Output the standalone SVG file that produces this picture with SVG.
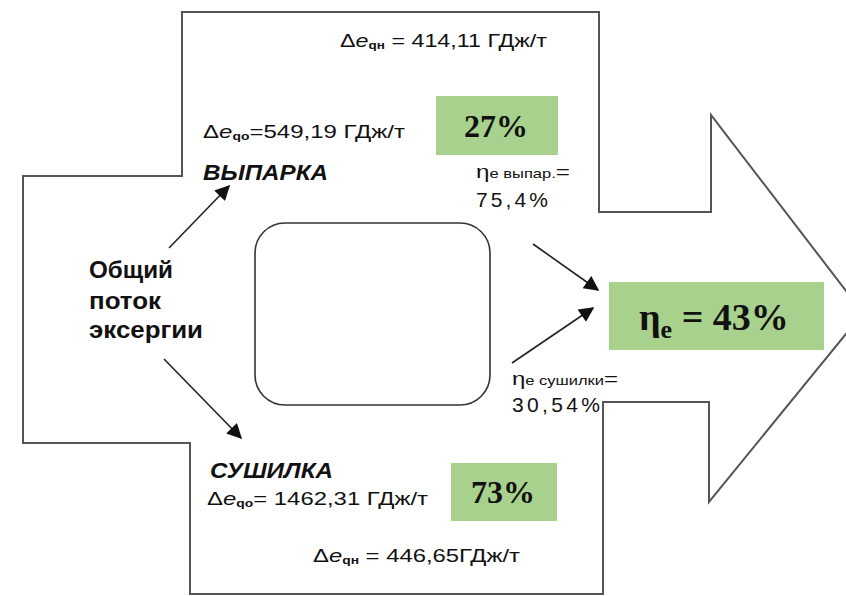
<svg xmlns="http://www.w3.org/2000/svg" width="846" height="596" viewBox="0 0 846 596">
<defs>
<style>
.t{font-family:"Liberation Sans",Arial,sans-serif;fill:#111;}
.s{font-size:19px;}
.sub{font-size:11px;font-weight:bold;}
.h{font-size:22px;font-weight:bold;font-style:italic;}
.src{font-size:23px;font-weight:bold;}
.g{fill:#a9d18e;}
.p{font-family:"Liberation Serif","Times New Roman",serif;font-weight:bold;fill:#111;}
.c{stroke:#222;stroke-width:1.6;fill:none;marker-end:url(#ah);}
</style>
<marker id="ah" viewBox="0 0 10 10" refX="9" refY="5" markerWidth="17" markerHeight="15" markerUnits="userSpaceOnUse" orient="auto">
<path d="M0,0 L10,5 L0,10 z" fill="#111"/>
</marker>
</defs>
<rect width="846" height="596" fill="#fff"/>
<g id="outline">
<polygon points="182,12 599,12 599,212 711,212 711,115 863,313 709,502 709,402 603,402 603,594 190,594 190,443 23,443 23,176 182,176" fill="#fff" stroke="#555" stroke-width="2"/>
</g>
<g id="center-box">
<rect x="255" y="223" width="235" height="182" rx="30" ry="30" fill="#fff" stroke="#333" stroke-width="1.6"/>
</g>
<g id="connectors">
<line class="c" x1="169" y1="248" x2="229" y2="186"/>
<line class="c" x1="164" y1="359" x2="241" y2="438"/>
<line class="c" x1="533" y1="244" x2="598" y2="290"/>
<line class="c" x1="512" y1="363" x2="593" y2="308"/>
</g>
<g id="source">
<text class="t src" x="89" y="278" textLength="84" lengthAdjust="spacingAndGlyphs">Общий</text>
<text class="t src" x="89" y="309" textLength="72" lengthAdjust="spacingAndGlyphs">поток</text>
<text class="t src" x="89" y="338" textLength="114" lengthAdjust="spacingAndGlyphs">эксергии</text>
</g>
<g id="top-loss">
<text class="t s" x="340" y="47" textLength="207" lengthAdjust="spacingAndGlyphs">Δ<tspan font-style="italic">e</tspan><tspan class="sub" dy="2">qн</tspan><tspan dy="-2"> = 414,11 ГДж/т</tspan></text>
</g>
<g id="vyparka">
<text class="t s" x="203" y="138" textLength="202" lengthAdjust="spacingAndGlyphs">Δ<tspan font-style="italic">e</tspan><tspan class="sub" dy="2">qo</tspan><tspan dy="-2">=549,19 ГДж/т</tspan></text>
<text class="t h" x="203" y="180" textLength="125" lengthAdjust="spacingAndGlyphs">ВЫПАРКА</text>
<rect class="g" x="436" y="96" width="122" height="59"/>
<text class="p" x="496" y="137" font-size="32" text-anchor="middle">27%</text>
</g>
<g id="eff-vypar">
<text class="t" x="476" y="178" font-size="19" textLength="94" lengthAdjust="spacingAndGlyphs">η<tspan font-size="13">e выпар.</tspan>=</text>
<text class="t" x="476" y="207" font-size="21" textLength="72" lengthAdjust="spacing">75,4%</text>
</g>
<g id="sushilka">
<text class="t h" x="210" y="478" textLength="123" lengthAdjust="spacingAndGlyphs">СУШИЛКА</text>
<text class="t s" x="207" y="505" textLength="221" lengthAdjust="spacingAndGlyphs">Δ<tspan font-style="italic">e</tspan><tspan class="sub" dy="2">qo</tspan><tspan dy="-2">= 1462,31 ГДж/т</tspan></text>
<rect class="g" x="451" y="463" width="106" height="58"/>
<text class="p" x="503" y="503" font-size="32" text-anchor="middle">73%</text>
</g>
<g id="bottom-loss">
<text class="t s" x="313" y="562" textLength="207" lengthAdjust="spacingAndGlyphs">Δ<tspan font-style="italic">e</tspan><tspan class="sub" dy="2">qн</tspan><tspan dy="-2"> = 446,65ГДж/т</tspan></text>
</g>
<g id="eff-sush">
<text class="t" x="512" y="385" font-size="19" textLength="106" lengthAdjust="spacingAndGlyphs">η<tspan font-size="13">e сушилки</tspan>=</text>
<text class="t" x="512" y="412" font-size="21" textLength="88" lengthAdjust="spacing">30,54%</text>
</g>
<g id="total">
<rect class="g" x="609" y="282" width="215" height="68"/>
<text class="p" x="639" y="330" font-size="38">η<tspan font-size="26" dy="8">e</tspan><tspan dy="-8"> = 43%</tspan></text>
</g>
</svg>
